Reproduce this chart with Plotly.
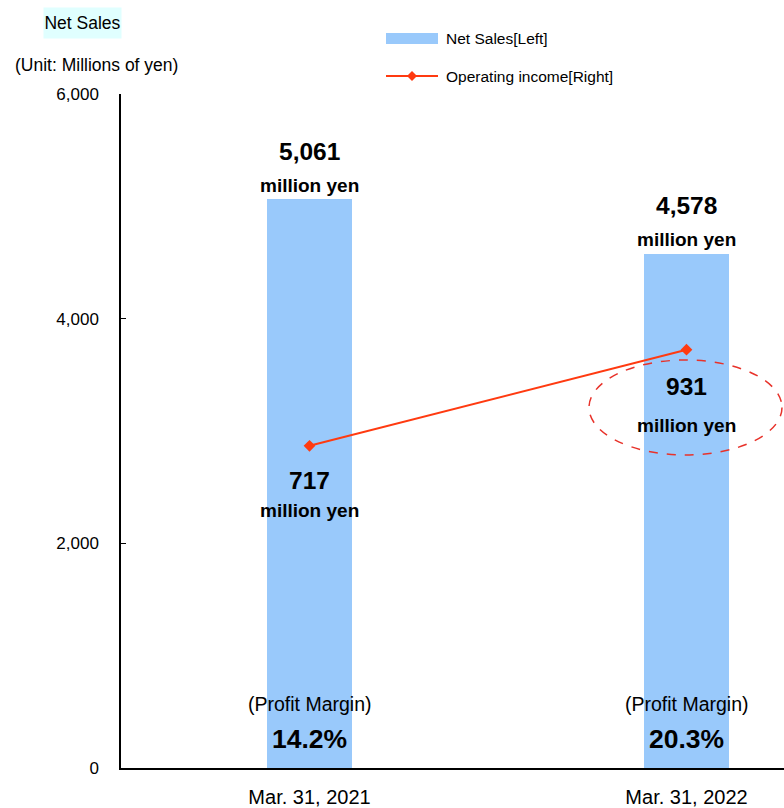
import plotly.graph_objects as go

# Fiscal years and figures (millions of yen)
periods = ["Mar. 31, 2021", "Mar. 31, 2022"]
net_sales = [5061, 4578]
operating_income = [717, 931]
profit_margin = ["14.2%", "20.3%"]
y_ticks = [0, 2000, 4000, 6000]
y_tick_text = ["0", "2,000", "4,000", "6,000"]

FONT = "Liberation Sans, Arial, sans-serif"

BAR_COLOR = "#99c9fb"
LINE_COLOR = "#ff3a10"

x_idx = list(range(len(periods)))

W, H = 784, 808
L, B, T = 121, 40, 94


def px(x):
    return (x - L) / (W - L)


def py(y):
    return (H - B - y) / (H - B - T)


fig = go.Figure()
fig.add_trace(go.Bar(
    x=x_idx, y=net_sales, width=0.223, marker=dict(color=BAR_COLOR, line=dict(width=0)),
    name="Net Sales[Left]", showlegend=False, hoverinfo="skip",
))
fig.add_trace(go.Scatter(
    x=x_idx, y=operating_income, yaxis="y2", mode="lines+markers",
    line=dict(color=LINE_COLOR, width=2),
    marker=dict(symbol="diamond", size=9, color=LINE_COLOR),
    name="Operating income[Right]", showlegend=False, hoverinfo="skip",
))

annotations = []
for i, v in enumerate(net_sales):
    annotations.append(dict(x=i, y=v, xref="x", yref="y", text=f"<b>{v:,}</b>",
                            showarrow=False, yshift=48, font=dict(family=FONT, size=24.5, color="#000")))
    annotations.append(dict(x=i, y=v, xref="x", yref="y", text="<b>million yen</b>",
                            showarrow=False, yshift=14, font=dict(family=FONT, size=19, color="#000")))
    annotations.append(dict(x=i, y=0, xref="x", yref="y", text="(Profit Margin)",
                            showarrow=False, yshift=64, font=dict(family=FONT, size=19.5, color="#000")))
    annotations.append(dict(x=i, y=0, xref="x", yref="y", text=f"<b>{profit_margin[i]}</b>",
                            showarrow=False, yshift=29, font=dict(family=FONT, size=26.5, color="#000")))

oi_shift = [(-35, -65), (-37, -76)]
for i, v in enumerate(operating_income):
    annotations.append(dict(x=i, y=v, xref="x", yref="y2", text=f"<b>{v:,}</b>",
                            showarrow=False, yshift=oi_shift[i][0], font=dict(family=FONT, size=24.5, color="#000")))
    annotations.append(dict(x=i, y=v, xref="x", yref="y2", text="<b>million yen</b>",
                            showarrow=False, yshift=oi_shift[i][1], font=dict(family=FONT, size=19, color="#000")))

# Axis titles and legend
annotations += [
    dict(x=px(43), y=py(23), xref="paper", yref="paper", text="Net Sales", showarrow=False,
         xanchor="left", yanchor="middle", bgcolor="#e0ffff", borderpad=0, width=77, height=30,
         font=dict(family=FONT, size=17.5, color="#000")),
    dict(x=px(13), y=py(65), xref="paper", yref="paper", text="(Unit: Millions of yen)", showarrow=False,
         xanchor="left", yanchor="middle", font=dict(family=FONT, size=17.5, color="#000")),
    dict(x=px(444), y=py(39), xref="paper", yref="paper", text="Net Sales[Left]", showarrow=False,
         xanchor="left", yanchor="middle", font=dict(family=FONT, size=15.5, color="#000")),
    dict(x=px(444), y=py(76), xref="paper", yref="paper", text="Operating income[Right]", showarrow=False,
         xanchor="left", yanchor="middle", font=dict(family=FONT, size=15.5, color="#000")),
]

shapes = [
    # legend swatches
    dict(type="rect", xref="paper", yref="paper", x0=px(386), x1=px(438), y0=py(44), y1=py(33),
         fillcolor=BAR_COLOR, line=dict(width=0)),
    dict(type="line", xref="paper", yref="paper", x0=px(386), x1=px(438), y0=py(76), y1=py(76),
         line=dict(color=LINE_COLOR, width=2)),
    dict(type="path", xref="paper", yref="paper",
         path=f"M {px(407)},{py(76)} L {px(412)},{py(71)} L {px(417)},{py(76)} L {px(412)},{py(81)} Z",
         fillcolor=LINE_COLOR, line=dict(width=0)),
    # dashed highlight around the latest operating income
    dict(type="circle", xref="paper", yref="paper", x0=px(589), x1=px(782), y0=py(455), y1=py(360),
         line=dict(color="#e8322a", width=1.5, dash="dash")),
]

fig.update_layout(
    width=W, height=H,
    margin=dict(l=L, r=0, t=T, b=B, pad=0),
    plot_bgcolor="white", paper_bgcolor="white",
    showlegend=False,
    bargap=0,
    xaxis=dict(range=[-0.5, -0.5 + (W - L) / 377], tickvals=x_idx, ticktext=periods,
               showline=True, linecolor="#000", linewidth=1.5, ticks="", showgrid=False,
               zeroline=False, tickfont=dict(family=FONT, size=20, color="#000"),
               ticklabelstandoff=10, fixedrange=True),
    yaxis=dict(range=[0, 6000], tickvals=y_ticks, ticktext=y_tick_text,
               showline=True, linecolor="#000", linewidth=1.5, ticks="inside", ticklen=5,
               tickcolor="#000", showgrid=False, zeroline=False,
               tickfont=dict(family=FONT, size=17, color="#000"), ticklabelstandoff=17),
    yaxis2=dict(range=[0, 1500], overlaying="y", side="right", visible=False),
    annotations=annotations,
    shapes=shapes,
)

fig.write_html("out.html")
